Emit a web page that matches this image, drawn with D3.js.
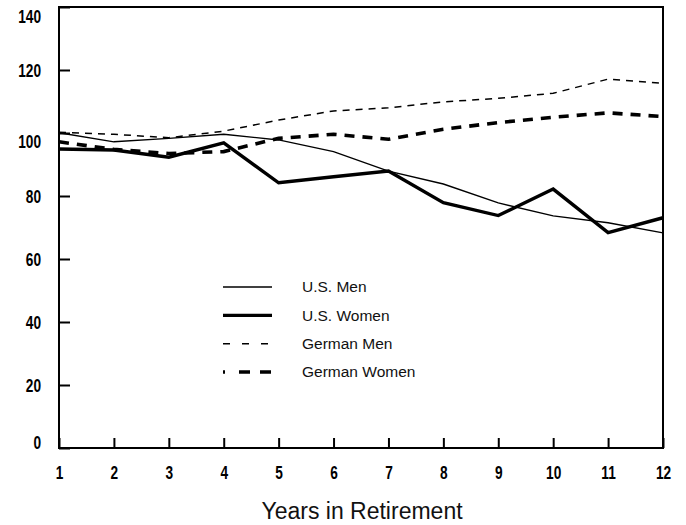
<!DOCTYPE html>
<html>
<head>
<meta charset="utf-8">
<script src="https://cdn.jsdelivr.net/npm/d3@7"></script>
<style>
  html, body { margin: 0; padding: 0; background: #fff; }
  svg { display: block; }
</style>
</head>
<body>
<svg id="chart" width="686" height="525"></svg>
<script>
const years = [1, 2, 3, 4, 5, 6, 7, 8, 9, 10, 11, 12];
const usMen       = [100.1, 97.2, 98.3, 99.6, 97.8, 94.1, 87.9, 83.8, 77.8, 73.7, 71.5, 68.3];
const usWomen     = [94.9, 94.6, 92.3, 96.9, 84.2, 86.1, 87.9, 77.9, 73.8, 82.2, 68.4, 73.1];
const germanMen   = [100.2, 99.6, 98.5, 100.6, 104.1, 107.0, 108.0, 109.9, 111.0, 112.6, 117.1, 115.8];
const germanWomen = [97.2, 94.8, 93.5, 94.1, 98.3, 99.6, 98.0, 101.2, 103.3, 105.0, 106.4, 105.2];
const yTicks = [0, 20, 40, 60, 80, 100, 120, 140];
const seriesNames = ["U.S. Men", "U.S. Women", "German Men", "German Women"];
const xTitle = "Years in Retirement";

const svg = d3.select("#chart");
const L = 59, R = 663, T = 7, B = 448;

const x = d3.scaleLinear().domain([1, 12]).range([L, R]);
const y = d3.scaleLinear().domain([0, 140]).range([B, T]);

const tickFont = "'Liberation Sans', Arial, sans-serif";
const SX = 0.74; // horizontal condensing of tick labels
const tickSize = 18.5;

const styles = [
  { width: 1.4, dash: null, legendDash: null },
  { width: 3.4, dash: null, legendDash: null },
  { width: 1.5, dash: "7,6", legendDash: "7,12" },
  { width: 3.6, dash: "10,8", legendDash: "2,14,11,10,11,100" }
];
const allSeries = [usMen, usWomen, germanMen, germanWomen];

const line = d3.line().x((d, i) => x(years[i])).y(d => y(d));

allSeries.forEach((vals, k) => {
  svg.append("path")
    .datum(vals)
    .attr("d", line)
    .attr("fill", "none")
    .attr("stroke", "#000")
    .attr("stroke-width", styles[k].width)
    .attr("stroke-linejoin", "miter")
    .attr("stroke-dasharray", styles[k].dash);
});

// frame
svg.append("rect")
  .attr("x", L).attr("y", T)
  .attr("width", R - L).attr("height", B - T)
  .attr("fill", "none").attr("stroke", "#000").attr("stroke-width", 2);

// y axis
const yAxis = d3.axisLeft(y).tickValues(yTicks).tickSize(-11).tickPadding(18).tickFormat(d3.format("d"));
const gy = svg.append("g").attr("transform", `translate(${L},0)`).call(yAxis);
gy.select(".domain").remove();
gy.selectAll(".tick line").attr("stroke", "#000").attr("stroke-width", 2);
gy.selectAll(".tick text")
  .attr("font-family", tickFont)
  .attr("font-weight", "bold")
  .attr("font-size", tickSize)
  .attr("fill", "#000")
  .attr("x", -18 / SX)
  .attr("transform", `scale(${SX},1)`)
  .attr("dy", d => d === 140 ? "0.85em" : d === 100 ? "0.76em" : d === 0 ? "0.0em" : "0.36em");

// x axis
const xAxis = d3.axisBottom(x).tickValues(years).tickSize(-10).tickPadding(0).tickFormat(d3.format("d"));
const gx = svg.append("g").attr("transform", `translate(0,${B})`).call(xAxis);
gx.select(".domain").remove();
gx.selectAll(".tick line").attr("stroke", "#000").attr("stroke-width", 2);
gx.selectAll(".tick text")
  .attr("font-family", tickFont)
  .attr("font-weight", "bold")
  .attr("font-size", tickSize)
  .attr("fill", "#000")
  .attr("transform", `scale(${SX},1)`)
  .attr("x", 0)
  .attr("y", 24)
  .attr("dy", "0.36em");

// x title
svg.append("text")
  .attr("x", 362).attr("y", 519)
  .attr("text-anchor", "middle")
  .attr("font-family", "'Liberation Sans', Arial, sans-serif")
  .attr("font-size", 23)
  .attr("fill", "#111")
  .text(xTitle);

// legend
const legY = d3.scalePoint().domain(seriesNames).range([287, 372]);
const leg = svg.append("g");
seriesNames.forEach((name, k) => {
  const yy = legY(name);
  leg.append("line")
    .attr("x1", 223).attr("x2", 272)
    .attr("y1", yy).attr("y2", yy)
    .attr("stroke", "#000")
    .attr("stroke-width", styles[k].width)
    .attr("stroke-dasharray", styles[k].legendDash);
  leg.append("text")
    .attr("x", 302).attr("y", yy)
    .attr("dy", "0.35em")
    .attr("font-family", "'Liberation Sans', Arial, sans-serif")
    .attr("font-size", 15.5)
    .attr("fill", "#111")
    .text(name);
});
</script>
</body>
</html>
